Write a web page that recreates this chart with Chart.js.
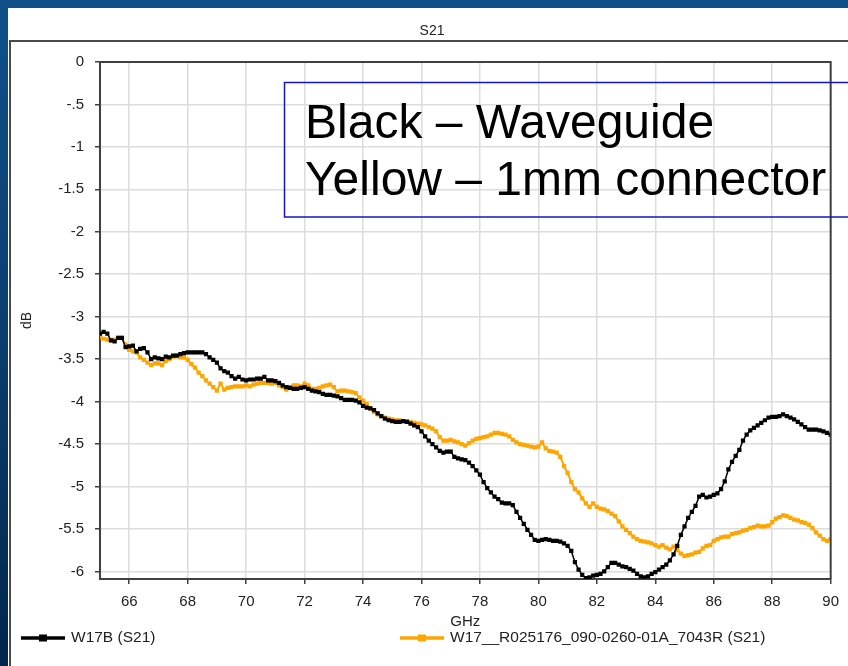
<!DOCTYPE html>
<html>
<head>
<meta charset="utf-8">
<script src="https://cdn.jsdelivr.net/npm/chart.js@4.4.1/dist/chart.umd.min.js"></script>
<style>
  html, body { margin: 0; padding: 0; background: #0b3d6b; }
  canvas { display: block; }
</style>
</head>
<body>
<canvas id="c" width="848" height="666"></canvas>
<script>
// Sweep definition (GHz)
const sweepStartGHz = 65;
const sweepStopGHz = 90;
const sweepPoints = 201;

// S21 in dB, one value per sweep point
const w17bS21 = [
  -3.20,-3.18,-3.20,-3.28,-3.29,-3.25,-3.25,-3.36,-3.35,-3.34,
  -3.41,-3.38,-3.37,-3.42,-3.50,-3.48,-3.49,-3.50,-3.47,-3.48,
  -3.46,-3.46,-3.44,-3.43,-3.42,-3.42,-3.42,-3.42,-3.42,-3.44,
  -3.48,-3.51,-3.54,-3.61,-3.64,-3.66,-3.70,-3.73,-3.71,-3.74,
  -3.75,-3.74,-3.74,-3.73,-3.73,-3.71,-3.75,-3.75,-3.76,-3.78,
  -3.81,-3.83,-3.84,-3.85,-3.85,-3.84,-3.83,-3.85,-3.87,-3.88,
  -3.89,-3.91,-3.92,-3.92,-3.93,-3.94,-3.96,-3.98,-3.98,-3.98,
  -3.99,-4.01,-4.05,-4.07,-4.08,-4.10,-4.14,-4.17,-4.20,-4.22,
  -4.23,-4.24,-4.24,-4.23,-4.24,-4.26,-4.28,-4.30,-4.35,-4.41,
  -4.46,-4.50,-4.54,-4.58,-4.60,-4.59,-4.59,-4.65,-4.67,-4.68,
  -4.69,-4.72,-4.76,-4.81,-4.86,-4.95,-5.02,-5.07,-5.12,-5.15,
  -5.19,-5.20,-5.20,-5.22,-5.30,-5.37,-5.44,-5.51,-5.57,-5.63,
  -5.64,-5.63,-5.62,-5.63,-5.64,-5.64,-5.65,-5.67,-5.70,-5.76,
  -5.89,-5.98,-6.04,-6.08,-6.07,-6.05,-6.04,-6.03,-6.00,-5.95,
  -5.90,-5.90,-5.92,-5.94,-5.95,-5.97,-5.99,-6.03,-6.06,-6.07,
  -6.06,-6.03,-6.01,-5.98,-5.95,-5.92,-5.87,-5.80,-5.70,-5.57,
  -5.47,-5.37,-5.30,-5.23,-5.12,-5.10,-5.13,-5.12,-5.10,-5.08,
  -5.03,-4.94,-4.80,-4.71,-4.64,-4.57,-4.46,-4.39,-4.34,-4.31,
  -4.28,-4.25,-4.22,-4.19,-4.18,-4.18,-4.17,-4.15,-4.17,-4.19,
  -4.21,-4.24,-4.27,-4.30,-4.33,-4.33,-4.33,-4.34,-4.35,-4.37,
  -4.39
];

const w17rS21 = [
  -3.24,-3.26,-3.27,-3.28,-3.27,-3.25,-3.25,-3.33,-3.39,-3.41,
  -3.42,-3.48,-3.51,-3.54,-3.57,-3.55,-3.55,-3.57,-3.52,-3.50,
  -3.47,-3.46,-3.48,-3.48,-3.51,-3.56,-3.60,-3.66,-3.70,-3.75,
  -3.79,-3.83,-3.87,-3.79,-3.86,-3.84,-3.83,-3.82,-3.82,-3.82,
  -3.81,-3.82,-3.80,-3.79,-3.78,-3.78,-3.78,-3.79,-3.78,-3.81,
  -3.83,-3.86,-3.83,-3.81,-3.81,-3.82,-3.79,-3.81,-3.85,-3.85,
  -3.84,-3.82,-3.81,-3.80,-3.83,-3.88,-3.87,-3.87,-3.88,-3.89,
  -3.90,-3.95,-3.99,-4.03,-4.08,-4.12,-4.15,-4.17,-4.19,-4.20,
  -4.21,-4.22,-4.22,-4.23,-4.23,-4.24,-4.25,-4.26,-4.27,-4.28,
  -4.30,-4.32,-4.35,-4.42,-4.46,-4.46,-4.45,-4.47,-4.48,-4.50,
  -4.52,-4.49,-4.46,-4.44,-4.43,-4.42,-4.41,-4.39,-4.37,-4.37,
  -4.38,-4.39,-4.41,-4.45,-4.48,-4.50,-4.51,-4.52,-4.53,-4.54,
  -4.53,-4.48,-4.55,-4.58,-4.59,-4.60,-4.65,-4.76,-4.84,-4.95,
  -5.03,-5.07,-5.14,-5.20,-5.24,-5.20,-5.24,-5.26,-5.27,-5.29,
  -5.32,-5.35,-5.41,-5.47,-5.51,-5.55,-5.59,-5.62,-5.64,-5.65,
  -5.66,-5.67,-5.69,-5.71,-5.69,-5.72,-5.74,-5.71,-5.75,-5.79,
  -5.82,-5.81,-5.80,-5.78,-5.77,-5.73,-5.70,-5.69,-5.64,-5.62,
  -5.60,-5.59,-5.59,-5.56,-5.55,-5.54,-5.52,-5.51,-5.49,-5.48,
  -5.46,-5.47,-5.47,-5.46,-5.42,-5.38,-5.36,-5.34,-5.35,-5.37,
  -5.39,-5.40,-5.42,-5.43,-5.45,-5.49,-5.54,-5.58,-5.62,-5.64,
  -5.62
];

const seriesNames = ['W17B (S21)', 'W17__R025176_090-0260-01A_7043R (S21)'];
const seriesColors = ['#000000', '#FFA500'];

const xTickValues = [66, 68, 70, 72, 74, 76, 78, 80, 82, 84, 86, 88, 90];
const yTickValues = [0, -0.5, -1, -1.5, -2, -2.5, -3, -3.5, -4, -4.5, -5, -5.5, -6];
const yTickLabels = ['0', '-.5', '-1', '-1.5', '-2', '-2.5', '-3', '-3.5', '-4', '-4.5', '-5', '-5.5', '-6'];

const chartTitle = 'S21';
const noteLines = ['Black \u2013 Waveguide', 'Yellow \u2013 1mm connector'];

// Frequency of each sweep point
const freqs = [];
for (let i = 0; i < sweepPoints; i++) {
  freqs.push(sweepStartGHz + (sweepStopGHz - sweepStartGHz) * i / (sweepPoints - 1));
}
const toPoints = vals => vals.map((v, i) => ({ x: freqs[i], y: v }));

const FONT = '"Liberation Sans", Arial, sans-serif';
const TEXT = '#222222';
const AXIS = '#404040';

// Slide background, white panel, frame, plot border, title, legend and note box
const decor = {
  id: 'decor',
  beforeDraw(chart) {
    const ctx = chart.ctx;
    ctx.save();
    const g = ctx.createLinearGradient(0, 0, 0, 666);
    g.addColorStop(0, '#0f5089');
    g.addColorStop(0.5, '#0a3e6d');
    g.addColorStop(1, '#03264a');
    ctx.fillStyle = g;
    ctx.fillRect(0, 0, 848, 666);
    ctx.fillStyle = '#ffffff';
    ctx.fillRect(8, 8, 840, 658);
    ctx.strokeStyle = '#4a4a4a';
    ctx.lineWidth = 2;
    ctx.beginPath();
    ctx.moveTo(10, 666);
    ctx.lineTo(10, 41);
    ctx.lineTo(848, 41);
    ctx.stroke();
    ctx.restore();
  },
  afterDraw(chart) {
    const ctx = chart.ctx;
    const a = chart.chartArea;
    ctx.save();
    // top and right edges of the plot frame
    ctx.strokeStyle = AXIS;
    ctx.lineWidth = 2;
    ctx.beginPath();
    ctx.moveTo(a.left, a.top);
    ctx.lineTo(a.right, a.top);
    ctx.lineTo(a.right, a.bottom);
    ctx.stroke();

    // title
    ctx.fillStyle = TEXT;
    ctx.font = '14px ' + FONT;
    ctx.textAlign = 'center';
    ctx.textBaseline = 'middle';
    ctx.fillText(chartTitle, 432, 31);

    // legend
    const legendX = [21, 400];
    chart.data.datasets.forEach((ds, i) => {
      const x0 = legendX[i], y = 638;
      ctx.strokeStyle = ds.borderColor;
      ctx.lineWidth = 3.5;
      ctx.beginPath();
      ctx.moveTo(x0, y);
      ctx.lineTo(x0 + 44, y);
      ctx.stroke();
      ctx.fillStyle = ds.borderColor;
      ctx.fillRect(x0 + 18, y - 3.5, 8, 7);
      ctx.fillStyle = TEXT;
      ctx.font = '15.5px ' + FONT;
      ctx.textAlign = 'left';
      ctx.textBaseline = 'middle';
      ctx.fillText(ds.label, x0 + 50, y);
    });

    // note box
    ctx.strokeStyle = '#1414c8';
    ctx.lineWidth = 1.5;
    ctx.strokeRect(284.5, 82.5, 600, 134.5);
    ctx.fillStyle = '#000000';
    ctx.font = '48px ' + FONT;
    ctx.textAlign = 'left';
    ctx.textBaseline = 'alphabetic';
    ctx.fillText(noteLines[0], 305, 138);
    ctx.fillText(noteLines[1], 305, 195);
    ctx.restore();
  }
};

new Chart(document.getElementById('c'), {
  type: 'line',
  data: {
    datasets: [
      {
        label: seriesNames[0],
        data: toPoints(w17bS21),
        borderColor: seriesColors[0],
        backgroundColor: seriesColors[0],
        borderWidth: 1.5,
        pointStyle: 'rect',
        pointRadius: 3,
        pointBorderWidth: 0,
        tension: 0
      },
      {
        label: seriesNames[1],
        data: toPoints(w17rS21),
        borderColor: seriesColors[1],
        backgroundColor: seriesColors[1],
        borderWidth: 2,
        pointStyle: 'rect',
        pointRadius: 3,
        pointBorderWidth: 0,
        tension: 0
      }
    ]
  },
  options: {
    responsive: false,
    animation: false,
    devicePixelRatio: 1,
    layout: { padding: { left: 16, right: 14, top: 62, bottom: 35 } },
    plugins: {
      legend: { display: false },
      title: { display: false },
      tooltip: { enabled: false }
    },
    scales: {
      x: {
        type: 'linear',
        min: sweepStartGHz,
        max: sweepStopGHz,
        afterBuildTicks: s => { s.ticks = xTickValues.map(v => ({ value: v })); },
        afterFit: s => { s.height = 52; },
        ticks: {
          color: TEXT,
          font: { family: FONT, size: 15 },
          padding: 9,
          maxRotation: 0,
          autoSkip: false,
          callback: v => String(v)
        },
        grid: {
          color: '#dcdcdc',
          lineWidth: 1.5,
          tickLength: 5,
          tickColor: AXIS,
          tickWidth: 1.5
        },
        border: { display: true, color: AXIS, width: 2 },
        title: {
          display: true,
          text: 'GHz',
          color: TEXT,
          font: { family: FONT, size: 15 },
          padding: { top: 0, bottom: 0 }
        }
      },
      y: {
        type: 'linear',
        min: -6.09,
        max: 0,
        afterBuildTicks: s => { s.ticks = yTickValues.map(v => ({ value: v })); },
        afterFit: s => { s.width = 84; },
        ticks: {
          color: TEXT,
          font: { family: FONT, size: 15 },
          padding: 11,
          autoSkip: false,
          callback: (v, i) => yTickLabels[i]
        },
        grid: {
          color: '#dcdcdc',
          lineWidth: 1.5,
          tickLength: 5,
          tickColor: AXIS,
          tickWidth: 1.5
        },
        border: { display: true, color: AXIS, width: 2 },
        title: {
          display: true,
          text: 'dB',
          color: TEXT,
          font: { family: FONT, size: 14 },
          padding: { top: 3, bottom: 0 }
        }
      }
    }
  },
  plugins: [decor]
});
</script>
</body>
</html>
